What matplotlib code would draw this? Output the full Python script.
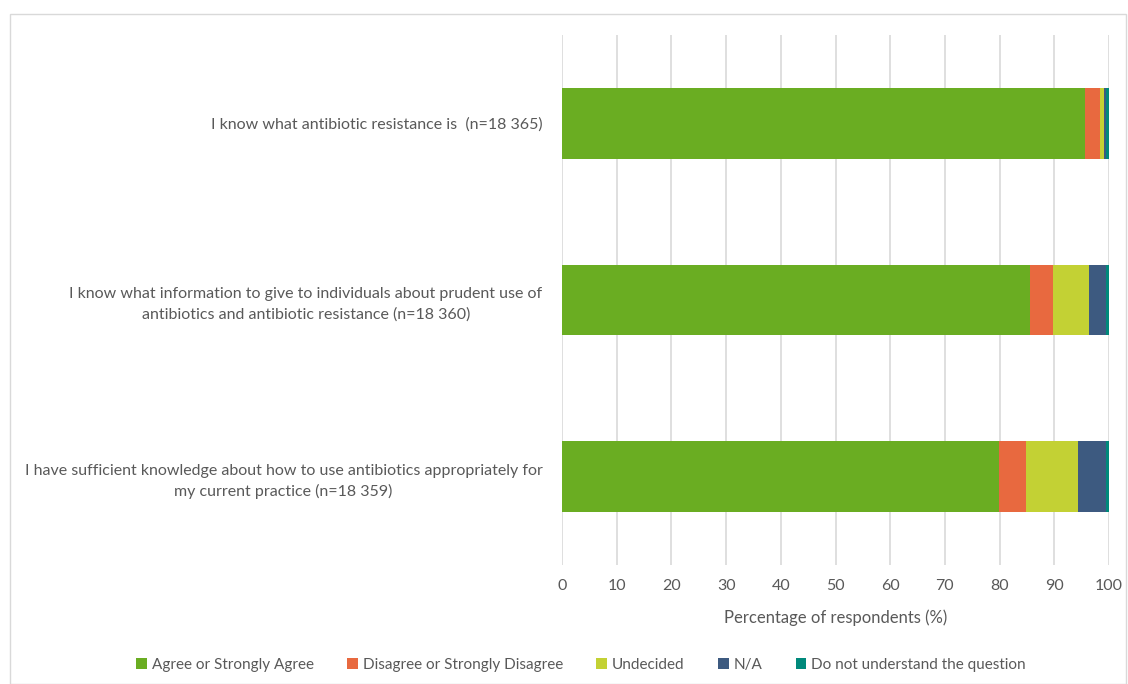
import matplotlib.pyplot as plt
from matplotlib.patches import Rectangle

plt.rcParams['font.family'] = ['Lato', 'DejaVu Sans']

# survey statements, top to bottom
statements = [
    "I know what antibiotic resistance is  (n=18 365)",
    "I know what information to give to individuals about prudent use of\nantibiotics and antibiotic resistance (n=18 360)",
    "I have sufficient knowledge about how to use antibiotics appropriately for\nmy current practice (n=18 359)",
]
responses = ["Agree or Strongly Agree", "Disagree or Strongly Disagree",
             "Undecided", "N/A", "Do not understand the question"]

# percentage of respondents per response, one list per statement
agree = [95.6, 85.6, 79.9]
disagree = [2.8, 4.1, 4.9]
undecided = [0.7, 6.7, 9.6]
not_applicable = [0.4, 3.1, 5.1]
not_understood = [0.5, 0.5, 0.5]

colors = ["#6AAD22", "#E8693F", "#C3D134", "#3D5A80", "#00897B"]
text_color = "#595959"

fig = plt.figure(figsize=(11.28, 6.84), dpi=100)
ax = fig.add_axes([562 / 1128, 1 - 565 / 684, 547 / 1128, 530 / 684])

ypos = range(len(statements))
left = [0.0] * len(statements)
for vals, label, c in zip([agree, disagree, undecided, not_applicable, not_understood],
                          responses, colors):
    ax.barh(ypos, vals, left=left, height=0.4, color=c, label=label, zorder=3)
    left = [l + v for l, v in zip(left, vals)]

ax.set_xlim(0, 100)
ax.set_ylim(2.5, -0.5)
ax.set_xticks(range(0, 101, 10))
ax.set_yticks(list(ypos))
ax.set_yticklabels(statements, multialignment='center', linespacing=1.5)
ax.tick_params(axis='both', length=0, colors=text_color, labelsize=11.5)
ax.tick_params(axis='x', pad=10)
ax.tick_params(axis='y', pad=14)
ax.grid(axis='x', color='#D9D9D9', linewidth=1.2, zorder=0)
for s in ax.spines.values():
    s.set_visible(False)
ax.set_xlabel("Percentage of respondents (%)", color=text_color, fontsize=12, labelpad=12)

leg = fig.legend(loc='center', bbox_to_anchor=(581 / 1128, 1 - 665 / 684), ncol=5,
                 frameon=False, fontsize=11, handlelength=0.7, handleheight=0.7,
                 handletextpad=0.3, columnspacing=2.2)
for t in leg.get_texts():
    t.set_color(text_color)

# thin frame around the whole chart
fig.patches.append(Rectangle((10 / 1128, 0), 1 - 10 / 1128 - 2 / 1128, 1 - 14 / 684,
                             transform=fig.transFigure, fill=False,
                             edgecolor='#D9D9D9', linewidth=1))

fig.savefig("out.png", dpi=100)
